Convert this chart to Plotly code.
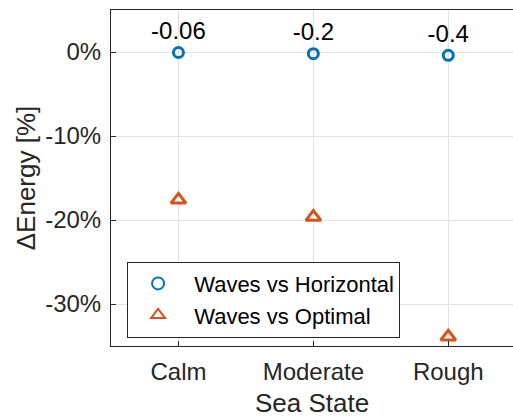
import plotly.graph_objects as go

categories = ["Calm", "Moderate", "Rough"]
x_pos = [1, 2, 3]
waves_vs_horizontal = [-0.06, -0.2, -0.4]
waves_vs_optimal = [-17.6, -19.65, -33.9]
label_text = ["-0.06", "-0.2", "-0.4"]
y_ticks = [0, -10, -20, -30]
y_tick_labels = ["0%", "-10%", "-20%", "-30%"]
series_names = ["Waves vs Horizontal", "Waves vs Optimal"]

blue = "#0072BD"
orange = "#D95319"
font_family = "Liberation Sans, Arial, sans-serif"
pad = "\u00a0"

fig = go.Figure()
fig.add_trace(go.Scatter(
    x=x_pos, y=waves_vs_horizontal, mode="markers+text",
    name=pad + series_names[0],
    text=label_text, textposition="top center",
    textfont=dict(size=24, color="#000000", family=font_family),
    marker=dict(symbol="circle-open", size=10, color=blue, line=dict(width=3, color=blue)),
))
fig.add_trace(go.Scatter(
    x=x_pos, y=waves_vs_optimal, mode="markers",
    name=pad + series_names[1],
    marker=dict(symbol="triangle-up-open", size=13, color=orange, line=dict(width=3, color=orange)),
))

fig.update_layout(
    width=513, height=418,
    margin=dict(l=111, r=0, t=10, b=72),
    paper_bgcolor="white", plot_bgcolor="white",
    font=dict(family=font_family, size=24, color="#262626"),
    showlegend=True,
    legend=dict(
        x=0.04, y=0.025, xanchor="left", yanchor="bottom",
        bgcolor="white", bordercolor="#262626", borderwidth=1,
        font=dict(size=22, color="#000000"),
        itemsizing="constant", itemwidth=50,
        tracegroupgap=0,
    ),
    xaxis=dict(
        range=[0.5, 3.48], tickvals=x_pos, ticktext=categories,
        showgrid=True, gridcolor="#e3e3e3", gridwidth=1,
        showline=True, linecolor="#262626", linewidth=1, mirror=True,
        ticks="inside", ticklen=5, tickcolor="#262626",
        zeroline=False, ticklabelstandoff=4,
        title=dict(text="Sea State", font=dict(size=26), standoff=13),
        tickfont=dict(size=24),
    ),
    yaxis=dict(
        range=[-35, 5], tickvals=y_ticks, ticktext=y_tick_labels,
        showgrid=True, gridcolor="#e3e3e3", gridwidth=1,
        showline=True, linecolor="#262626", linewidth=1, mirror=True,
        ticks="inside", ticklen=5, tickcolor="#262626",
        zeroline=False, ticklabelstandoff=4,
        title=dict(text="ΔEnergy [%]", font=dict(size=26), standoff=2),
        tickfont=dict(size=24),
    ),
)

fig.write_html("out.html")
